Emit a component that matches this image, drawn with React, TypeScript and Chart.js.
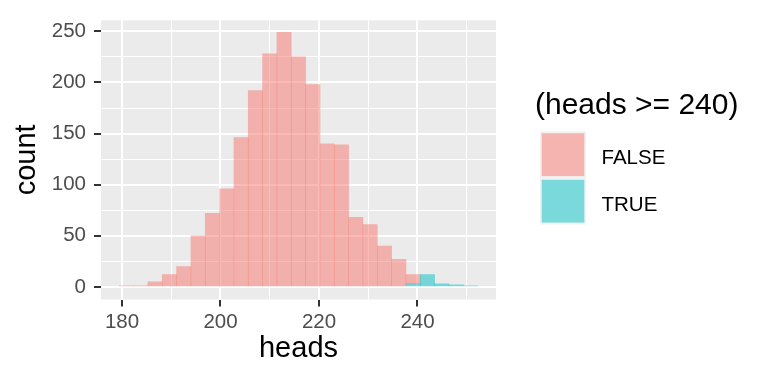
import React, { useEffect, useRef } from 'react';
import { Chart, registerables } from 'chart.js';

Chart.register(...registerables);

// Histogram bins (bin centers on the heads axis) and stacked counts
const binCenters = [
  180.91, 183.82, 186.73, 189.64, 192.55, 195.46, 198.37, 201.28, 204.19, 207.1,
  210.01, 212.92, 215.83, 218.74, 221.65, 224.56, 227.47, 230.38, 233.29, 236.2,
  239.11, 242.02, 244.93, 247.84, 250.75,
];
const countFalse = [1, 1, 5, 12, 20, 50, 72, 96, 146, 192, 228, 249, 225, 198, 140, 139, 68, 61, 40, 27, 9, 0, 0, 0, 0];
const countTrue = [0, 0, 0, 0, 0, 0, 0, 0, 0, 0, 0, 0, 0, 0, 0, 0, 0, 0, 0, 0, 3, 12, 3, 2, 1];
const seriesLabels = ['FALSE', 'TRUE'];
const seriesColors = ['rgba(248,118,109,0.5)', 'rgba(0,191,196,0.5)'];
const legendTitle = '(heads >= 240)';
const xTitle = 'heads';
const yTitle = 'count';
const xTickValues = [180, 190, 200, 210, 220, 230, 240, 250];
const xMajorTicks = [180, 200, 220, 240];
const yTickValues = [0, 25, 50, 75, 100, 125, 150, 175, 200, 225, 250];
const yMajorTicks = [0, 50, 100, 150, 200, 250];

const FONT = '"Liberation Sans", Arial, Helvetica, sans-serif';

const panelBg = {
  id: 'panelBg',
  beforeDraw(chart: any) {
    const { ctx, chartArea } = chart;
    ctx.save();
    ctx.fillStyle = '#EBEBEB';
    ctx.fillRect(chartArea.left, chartArea.top, chartArea.right - chartArea.left, chartArea.bottom - chartArea.top);
    ctx.restore();
  },
};

const ggLegend = {
  id: 'ggLegend',
  afterDraw(chart: any) {
    const { ctx } = chart;
    ctx.save();
    ctx.fillStyle = '#000000';
    ctx.font = `30px ${FONT}`;
    ctx.textBaseline = 'alphabetic';
    ctx.textAlign = 'left';
    ctx.fillText(legendTitle, 535, 114);
    const keyX = 540;
    const keyTop = 131.5;
    const keyH = 46.5;
    ctx.fillStyle = '#F2F2F2';
    ctx.fillRect(keyX, keyTop, 46, keyH * seriesLabels.length);
    seriesLabels.forEach((lab, i) => {
      const ds = chart.data.datasets.find((d: any) => d.label === lab);
      const y0 = keyTop + i * keyH;
      ctx.fillStyle = ds.backgroundColor;
      ctx.fillRect(keyX + 1.7, y0 + 1.8, 42.6, 42.8);
      ctx.fillStyle = '#000000';
      ctx.font = `20.5px ${FONT}`;
      ctx.fillText(lab, 601.5, y0 + 32.5);
    });
    ctx.restore();
  },
};

export default function App() {
  const canvasRef = useRef<HTMLCanvasElement | null>(null);

  useEffect(() => {
    const canvas = canvasRef.current;
    if (!canvas) return;
    const makeData = (arr: number[]) => binCenters.map((x, i) => ({ x, y: arr[i] === 0 ? null : arr[i] }));
    const chart = new Chart(canvas, {
      type: 'bar',
      data: {
        datasets: [
          {
            label: seriesLabels[1],
            data: makeData(countTrue) as any,
            backgroundColor: seriesColors[1],
            borderWidth: 0,
            barPercentage: 1,
            categoryPercentage: 1,
          },
          {
            label: seriesLabels[0],
            data: makeData(countFalse) as any,
            backgroundColor: seriesColors[0],
            borderWidth: 0,
            barPercentage: 1,
            categoryPercentage: 1,
          },
        ],
      },
      options: {
        animation: false,
        responsive: false,
        devicePixelRatio: 1,
        layout: { padding: { top: 15, right: 272, left: 0, bottom: 0 } },
        plugins: { legend: { display: false }, tooltip: { enabled: false } },
        scales: {
          x: {
            type: 'linear',
            stacked: true,
            offset: false,
            min: 175.74,
            max: 255.94,
            afterBuildTicks: (s: any) => {
              s.ticks = xTickValues.map((v) => ({ value: v }));
            },
            afterFit: (s: any) => {
              s.height = 84.5;
            },
            border: { display: false },
            grid: {
              offset: false,
              color: '#FFFFFF',
              lineWidth: (c: any) => (xMajorTicks.includes(c.tick?.value) ? 2 : 1),
              drawTicks: true,
              tickLength: 7,
              tickWidth: 2,
              tickColor: (c: any) => (xMajorTicks.includes(c.tick?.value) ? '#333333' : 'rgba(0,0,0,0)'),
            },
            ticks: {
              autoSkip: false,
              maxRotation: 0,
              padding: 4,
              color: '#4D4D4D',
              font: { family: FONT, size: 20.5 },
              callback: (v: any) => (xMajorTicks.includes(v) ? String(v) : ''),
            },
            title: {
              display: true,
              text: xTitle,
              color: '#000000',
              font: { family: FONT, size: 29 },
              padding: { top: 0, bottom: 17.6 },
            },
          },
          y: {
            type: 'linear',
            stacked: true,
            min: -12.3,
            max: 260.8,
            afterBuildTicks: (s: any) => {
              s.ticks = yTickValues.map((v) => ({ value: v }));
            },
            afterFit: (s: any) => {
              s.width = 101;
            },
            border: { display: false },
            grid: {
              color: '#FFFFFF',
              lineWidth: (c: any) => (yMajorTicks.includes(c.tick?.value) ? 2 : 1),
              drawTicks: true,
              tickLength: 7,
              tickWidth: 2,
              tickColor: (c: any) => (yMajorTicks.includes(c.tick?.value) ? '#333333' : 'rgba(0,0,0,0)'),
            },
            ticks: {
              autoSkip: false,
              padding: 8,
              color: '#4D4D4D',
              font: { family: FONT, size: 20.5 },
              callback: (v: any) => (yMajorTicks.includes(v) ? String(v) : ''),
            },
            title: {
              display: true,
              text: yTitle,
              color: '#000000',
              font: { family: FONT, size: 29 },
              padding: { top: 10, bottom: 0 },
            },
          },
        },
      },
      plugins: [panelBg, ggLegend],
    });
    return () => chart.destroy();
  }, []);

  return (
    <div style={{ position: 'absolute', left: 0, top: 0, width: 768, height: 384, background: '#FFFFFF' }}>
      <canvas ref={canvasRef} width={768} height={384} style={{ display: 'block', width: 768, height: 384 }} />
    </div>
  );
}
